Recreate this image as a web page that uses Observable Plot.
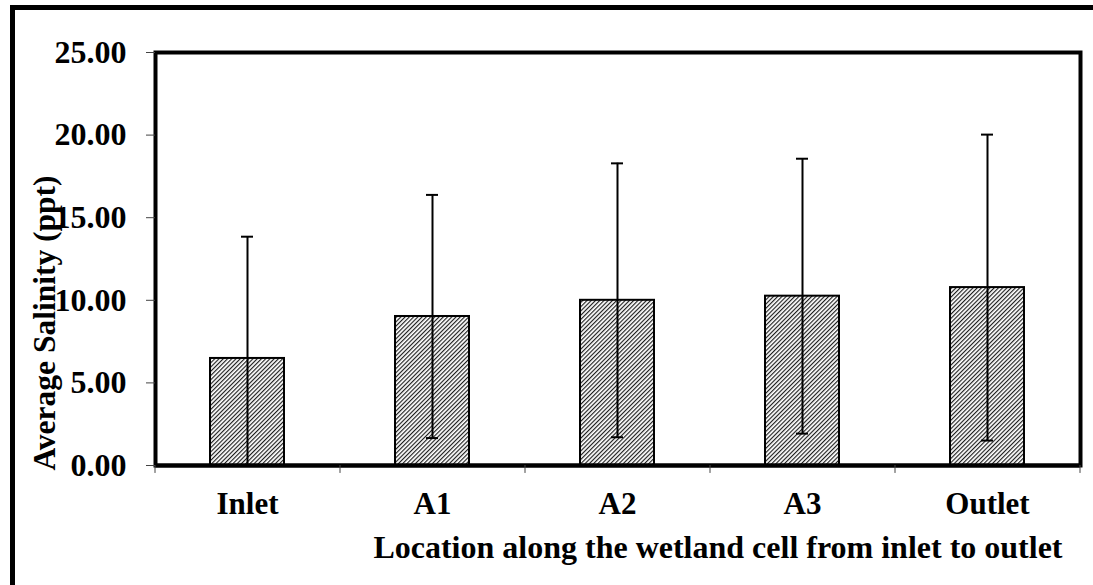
<!DOCTYPE html>
<html>
<head>
<meta charset="utf-8">
<script src="https://cdn.jsdelivr.net/npm/d3@7"></script>
<script src="https://cdn.jsdelivr.net/npm/@observablehq/plot@0.6"></script>
<style>
  html, body { margin: 0; padding: 0; background: #fff; }
  #wrap { position: relative; width: 1093px; height: 585px; overflow: hidden; }
  #outer { position: absolute; left: 10px; top: 5px; width: 1200px; height: 700px;
           border-left: 5px solid #000; border-top: 5px solid #000; box-sizing: border-box; pointer-events: none; }
  svg { display: block; }
</style>
</head>
<body>
<div id="wrap"><div id="outer"></div></div>
<script>
const categories = ["Inlet", "A1", "A2", "A3", "Outlet"];
const means = [6.48, 9.02, 10.0, 10.25, 10.77];
const sds = [7.37, 7.36, 8.29, 8.32, 9.26];
const yTicks = [0, 5, 10, 15, 20, 25];
const xTitle = "Location along the wetland cell from inlet to outlet";
const yTitle = "Average Salinity (ppt)";

const data = categories.map((c, i) => ({cat: c, mean: means[i], lo: means[i] - sds[i], hi: means[i] + sds[i]}));

const W = 1093, H = 585;
const mL = 155, mR = 13, mT = 52, mB = 120;
const step = (W - mL - mR) / categories.length;

const chart = Plot.plot({
  width: W,
  height: H,
  marginLeft: mL,
  marginRight: mR,
  marginTop: mT,
  marginBottom: mB,
  style: {fontFamily: "'Liberation Serif', 'Times New Roman', serif", fontSize: "31px", fontWeight: "bold", background: "#fff", overflow: "visible"},
  x: {domain: categories, paddingInner: 0.6, paddingOuter: 0.3},
  y: {domain: [0, 25]},
  marks: [
    Plot.barY(data, {x: "cat", y: "mean", fill: "url(#hatch)", stroke: "#000", strokeWidth: 2}),
    Plot.ruleX(data, {x: "cat", y1: "lo", y2: "hi", stroke: "#000", strokeWidth: 2, clip: true}),
    Plot.tickY(data, {x: "cat", y: "hi", stroke: "#000", strokeWidth: 2, insetLeft: 31, insetRight: 31, clip: true}),
    Plot.tickY(data, {x: "cat", y: "lo", stroke: "#000", strokeWidth: 2, insetLeft: 31, insetRight: 31, clip: true}),
    Plot.frame({stroke: "#000", strokeWidth: 4}),
    Plot.ruleY([0], {stroke: "#000", strokeWidth: 4}),
    Plot.ruleX(categories, {x: d => d, dx: -step / 2, y1: 0, y2: -0.48, stroke: "#444", strokeWidth: 1}),
    Plot.ruleX([categories[categories.length - 1]], {x: d => d, dx: step / 2, y1: 0, y2: -0.48, stroke: "#444", strokeWidth: 1}),
    Plot.axisY({ticks: yTicks, tickFormat: d3.format(".2f"), tickSize: 9, tickPadding: 20, stroke: "#444", label: null, fill: "#000", fontSize: 32}),
    Plot.axisX({tickSize: 0, tickPadding: 26, label: null, fill: "#000", fontSize: 31}),
    Plot.text([xTitle], {frameAnchor: "bottom-right", dx: -18, dy: 82, textAnchor: "end", lineAnchor: "middle", fill: "#000", fontSize: 32}),
    Plot.text([yTitle], {frameAnchor: "left", rotate: -90, dx: -111, dy: 64, textAnchor: "middle", lineAnchor: "middle", fill: "#000", fontSize: 31.5})
  ]
});

// hatch pattern definition
const ns = "http://www.w3.org/2000/svg";
const defs = document.createElementNS(ns, "defs");
const pat = document.createElementNS(ns, "pattern");
pat.setAttribute("id", "hatch");
pat.setAttribute("patternUnits", "userSpaceOnUse");
pat.setAttribute("width", "3");
pat.setAttribute("height", "3");
pat.setAttribute("patternTransform", "rotate(45)");
const bg = document.createElementNS(ns, "rect");
bg.setAttribute("width", "3"); bg.setAttribute("height", "3"); bg.setAttribute("fill", "#fff");
const ln = document.createElementNS(ns, "line");
ln.setAttribute("x1", "0.6"); ln.setAttribute("y1", "0"); ln.setAttribute("x2", "0.6"); ln.setAttribute("y2", "3");
ln.setAttribute("stroke", "#111"); ln.setAttribute("stroke-width", "1.1");
pat.appendChild(bg); pat.appendChild(ln); defs.appendChild(pat);
chart.insertBefore(defs, chart.firstChild);

document.getElementById("wrap").insertBefore(chart, document.getElementById("outer"));
</script>
</body>
</html>
